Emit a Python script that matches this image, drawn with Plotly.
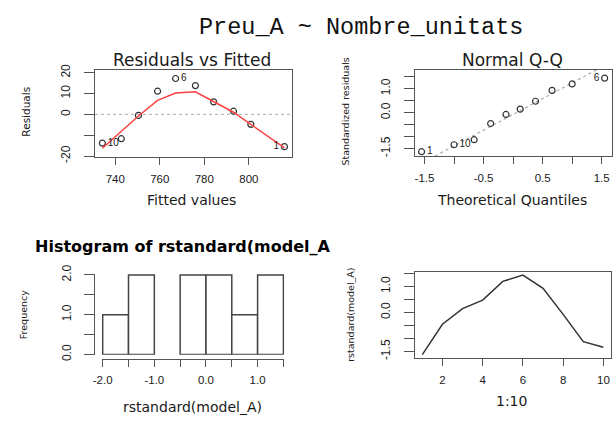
import numpy as np
import plotly.graph_objects as go
from statistics import NormalDist

# ---------------- data ----------------
main_title = "Preu_A ~ Nombre_unitats"
obs_ids = [1, 2, 3, 4, 5, 6, 7, 8, 9, 10]
fitted = [816.0, 800.9, 793.1, 784.2, 776.0, 767.1, 759.0, 750.4, 742.7, 734.2]
residuals = [-15.5, -4.8, 1.5, 6.0, 13.8, 17.2, 11.1, -0.5, -11.7, -13.8]
smooth_x = [734.2, 742.7, 750.4, 759.0, 767.1, 776.0, 784.2, 793.1, 800.9, 816.0]
smooth_y = [-16.3, -8.4, -0.8, 6.7, 10.2, 10.8, 6.0, 1.0, -4.8, -16.1]
rstd = [-1.62, -0.45, 0.15, 0.48, 1.20, 1.44, 0.93, -0.07, -1.12, -1.33]
theo_q = [-1.55, -1.00, -0.66, -0.38, -0.12, 0.12, 0.38, 0.66, 1.00, 1.55]
flagged = [1, 6, 10]

tl_xticks = [740, 760, 780, 800]
tl_yticks = [-20, -10, 0, 10, 20]
tl_ylabels = ["-20", "", "0", "10", "20"]
qq_ticks = [-1.5, -1.0, -0.5, 0.0, 0.5, 1.0, 1.5]
qq_xlabels = ["-1.5", "", "-0.5", "", "0.5", "", "1.5"]
qq_ylabels = ["-1.5", "", "", "0.0", "", "1.0", ""]
hist_xticks = [-2.0, -1.5, -1.0, -0.5, 0.0, 0.5, 1.0, 1.5]
hist_xlabels = ["-2.0", "", "-1.0", "", "0.0", "", "1.0", ""]
hist_yticks = [0.0, 0.5, 1.0, 1.5, 2.0]
hist_ylabels = ["0.0", "", "1.0", "", "2.0"]
idx_xticks = [2, 4, 6, 8, 10]

# ---------------- geometry helpers ----------------
W, H = 614, 421
def fx(p):
    return p / W
def fy(p):
    return 1 - p / H

INK = "#1a1a1a"
BOX = "#555555"
XTICKFONT = dict(family="Liberation Sans, Arial", size=11.5, color=INK)
YTICKFONT = dict(family="Liberation Sans, Arial", size=12, color=INK)
TITLEFONT = "DejaVu Sans"
LABELFONT = dict(family="Liberation Sans, Arial", size=10, color=INK)

fig = go.Figure()

# --- Residuals vs Fitted ---
fig.add_trace(go.Scatter(x=fitted, y=residuals, mode="markers", xaxis="x", yaxis="y",
                         marker=dict(symbol="circle-open", size=6, color="#333",
                                     line=dict(width=1.2, color="#333")),
                         showlegend=False, hoverinfo="skip"))
fig.add_trace(go.Scatter(x=smooth_x, y=smooth_y, mode="lines", xaxis="x", yaxis="y",
                         line=dict(color="#ff4040", width=1.5), showlegend=False,
                         hoverinfo="skip"))
mid_f = (min(fitted) + max(fitted)) / 2
lab_x = [fitted[i - 1] for i in flagged]
lab_y = [residuals[i - 1] for i in flagged]
lab_pos = ["middle left" if v > mid_f else "middle right" for v in lab_x]
fig.add_trace(go.Scatter(x=lab_x, y=lab_y, mode="markers+text", text=[str(i) for i in flagged],
                         textposition=lab_pos, xaxis="x", yaxis="y",
                         marker=dict(size=7, opacity=0),
                         textfont=LABELFONT, showlegend=False, hoverinfo="skip"))

# --- Normal Q-Q ---
order = np.argsort(rstd)
sorted_r = [rstd[i] for i in order]
sorted_ids = [obs_ids[i] for i in order]
q1, q3 = np.quantile(rstd, [0.25, 0.75])
t1, t3 = NormalDist().inv_cdf(0.25), NormalDist().inv_cdf(0.75)
slope = (q3 - q1) / (t3 - t1)
intercept = q1 - slope * t1
qq_xrange = [-1.667, 1.667]
line_x = [qq_xrange[0] - 1, qq_xrange[1] + 1]
fig.add_trace(go.Scatter(x=line_x, y=[intercept + slope * v for v in line_x], mode="lines",
                         xaxis="x2", yaxis="y2",
                         line=dict(color="#aaaaaa", width=1.2, dash="dot"),
                         showlegend=False, hoverinfo="skip"))
fig.add_trace(go.Scatter(x=theo_q, y=sorted_r, mode="markers", xaxis="x2", yaxis="y2",
                         marker=dict(symbol="circle-open", size=6, color="#333",
                                     line=dict(width=1.2, color="#333")),
                         showlegend=False, hoverinfo="skip"))
qx, qy, qt, qp = [], [], [], []
for t, r, i in zip(theo_q, sorted_r, sorted_ids):
    if i in flagged:
        qx.append(t); qy.append(r); qt.append(str(i))
        qp.append("middle left" if t > 0 else "middle right")
fig.add_trace(go.Scatter(x=qx, y=qy, mode="markers+text", text=qt, textposition=qp,
                         xaxis="x2", yaxis="y2", marker=dict(size=7, opacity=0),
                         textfont=LABELFONT, showlegend=False, hoverinfo="skip"))

# --- Histogram ---
fig.add_trace(go.Histogram(x=rstd, xbins=dict(start=-2.0, end=1.5, size=0.5),
                           xaxis="x3", yaxis="y3",
                           marker=dict(color="white", line=dict(color="#444", width=1.5)),
                           showlegend=False, hoverinfo="skip"))

# --- index plot ---
fig.add_trace(go.Scatter(x=obs_ids, y=rstd, mode="lines", xaxis="x4", yaxis="y4",
                         line=dict(color="#333", width=1.5), showlegend=False,
                         hoverinfo="skip"))

boxed = dict(showline=True, linecolor=BOX, linewidth=1, mirror=True, ticks="outside",
             tickcolor=BOX, tickwidth=1, showgrid=False, zeroline=False, fixedrange=True)
xcommon = dict(boxed, ticklen=7, ticklabelstandoff=4, tickfont=XTICKFONT)
ycommon = dict(boxed, ticklen=10, tickangle=-90, ticklabelstandoff=9, tickfont=YTICKFONT)

fig.update_layout(
    width=W, height=H, autosize=False,
    margin=dict(l=0, r=0, t=0, b=0),
    paper_bgcolor="white", plot_bgcolor="white",
    hovermode=False,
    xaxis=dict(xcommon, domain=[fx(87.3), fx(287)], range=[730.9, 819.3],
               tickmode="array", tickvals=tl_xticks, anchor="y"),
    yaxis=dict(ycommon, domain=[fy(153.3), fy(63)], range=[-20.4, 21.4],
               tickmode="array", tickvals=tl_yticks, ticktext=tl_ylabels, anchor="x"),
    xaxis2=dict(xcommon, domain=[fx(411.7), fx(611.5)], range=qq_xrange,
                tickmode="array", tickvals=qq_ticks, ticktext=qq_xlabels, anchor="y2"),
    yaxis2=dict(ycommon, domain=[fy(152.7), fy(63)], range=[-1.81, 1.79],
                tickmode="array", tickvals=qq_ticks, ticktext=qq_ylabels, anchor="x2"),
    xaxis3=dict(xcommon, mirror=False, domain=[fx(94.3), fx(279.3)], range=[-2.015, 1.515],
                tickmode="array", tickvals=hist_xticks, ticktext=hist_xlabels,
                anchor="free", position=fy(362.5)),
    yaxis3=dict(ycommon, mirror=False, domain=[fy(358.6), fy(274.5)], range=[-0.008, 2.03],
                tickmode="array", tickvals=hist_yticks, ticktext=hist_ylabels,
                anchor="free", position=fx(86.7)),
    xaxis4=dict(xcommon, domain=[fx(411.7), fx(611)], range=[0.62, 10.38],
                tickmode="array", tickvals=idx_xticks, anchor="y4"),
    yaxis4=dict(ycommon, domain=[fy(361.7), fy(272.7)], range=[-1.74, 1.56],
                tickmode="array", tickvals=qq_ticks, ticktext=qq_ylabels, anchor="x4"),
    bargap=0,
    shapes=[dict(type="line", xref="x domain", yref="y", x0=0, x1=1, y0=0, y1=0,
                 line=dict(color="#bbbbbb", width=1.2, dash="dot"), layer="below")],
)

def ann(text, x, y, size, family=TITLEFONT, angle=0, xanchor="center", color=INK):
    return dict(text=text, x=fx(x), y=fy(y), xref="paper", yref="paper", showarrow=False,
                font=dict(family=family, size=size, color=color), textangle=angle,
                xanchor=xanchor, yanchor="middle")

fig.update_layout(annotations=[
    ann(main_title, 357.5, 19, 23.5, family="Liberation Mono, Courier New", color="#111"),
    ann("Residuals vs Fitted", 186, 52.5, 17),
    ann("Normal Q-Q", 511.3, 52.5, 17),
    ann("Fitted values", 185, 198.3, 14),
    ann("Theoretical Quantiles", 510.5, 198.3, 14),
    ann("Residuals", 17, 106.7, 10.5, angle=-90),
    ann("Standardized residuals", 341.7, 106.7, 9.5, angle=-90),
    ann("<b>Histogram of rstandard(model_A</b>", 24, 246, 16, xanchor="left", color="#000"),
    ann("Frequency", 15, 316.7, 9.5, angle=-90),
    ann("rstandard(model_A)", 186.7, 413, 14),
    ann("rstandard(model_A)", 346.7, 317.5, 9.5, angle=-90),
    ann("1:10", 510, 407, 14),
])

fig.write_html(
    "out.html",
    config={"displayModeBar": False, "staticPlot": True},
    post_script="document.documentElement.style.overflow='hidden';"
                "document.body.style.margin='0';document.body.style.overflow='hidden';",
)
